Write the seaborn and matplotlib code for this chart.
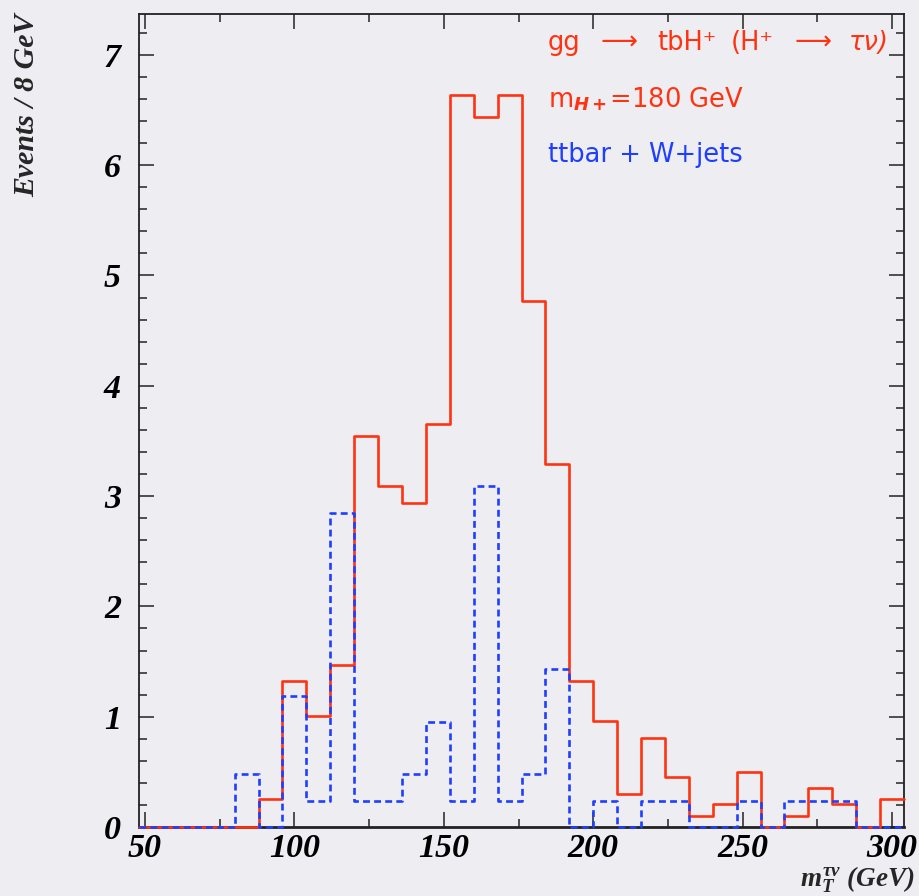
import numpy as np
import matplotlib
matplotlib.use("Agg")
import matplotlib.pyplot as plt
from matplotlib.ticker import MultipleLocator
import pandas as pd
import seaborn as sns

# lower edges of the 8 GeV bins
bin_low = list(range(48, 304, 8))
# gg -> tbH+ (H+ -> tau nu), m_H+ = 180 GeV
signal = [0, 0, 0, 0, 0, 0.25, 1.32, 1.01, 1.47, 3.54, 3.09, 2.94, 3.65, 6.64, 6.44, 6.64,
          4.77, 3.29, 1.32, 0.96, 0.30, 0.81, 0.45, 0.10, 0.21, 0.50, 0, 0.10, 0.35, 0.21, 0, 0.25]
# ttbar + W+jets
background = [0, 0, 0, 0, 0.48, 0, 1.19, 0.24, 2.85, 0.24, 0.24, 0.48, 0.95, 0.24, 3.09, 0.24,
              0.48, 1.43, 0, 0.24, 0, 0.24, 0.24, 0, 0, 0.24, 0, 0.24, 0.24, 0.24, 0, 0]

W, H = 919, 896
bg = "#eeedf2"
red = "#ff3311"
blue = "#1f3fff"


def fx(px):
    return px / W


def fy(py):
    return 1 - py / H


sns.set_style("ticks")
plt.rcParams.update({
    "font.family": ["Liberation Serif", "DejaVu Serif"],
    "font.weight": "bold",
    "font.style": "italic",
    "mathtext.fontset": "custom",
    "mathtext.it": "Liberation Serif:bold:italic",
    "mathtext.rm": "Liberation Serif:bold:italic",
    "mathtext.bf": "DejaVu Sans:bold",
    "axes.facecolor": bg,
    "figure.facecolor": bg,
})

fig = plt.figure(figsize=(9.19, 8.96), dpi=100)
ax = fig.add_axes([fx(139), fy(827), fx(904) - fx(139), (827 - 14) / H])

df = pd.DataFrame({"mt": np.array(bin_low) + 4, "sig": signal, "bkg": background})
edges = bin_low + [bin_low[-1] + 8]

sns.histplot(data=df, x="mt", weights="sig", bins=edges, element="step", fill=False,
             color=red, linewidth=1.9, zorder=3, clip_on=False, ax=ax)
sns.histplot(data=df, x="mt", weights="bkg", bins=edges, element="step", fill=False,
             color=blue, linewidth=1.9, linestyle=(0, (2.6, 1.6)), zorder=4, clip_on=False, ax=ax)

ax.set_xlim(48, 304)
ax.set_ylim(0, 7.37)
ax.set_xlabel("")
ax.set_ylabel("")
ax.xaxis.set_major_locator(MultipleLocator(50))
ax.xaxis.set_minor_locator(MultipleLocator(25))
ax.yaxis.set_major_locator(MultipleLocator(1))
ax.yaxis.set_minor_locator(MultipleLocator(0.2))
ax.tick_params(which="both", direction="in", top=True, right=True, width=1.2,
               color="#333333", labelsize=24.5, labelcolor="black")
ax.tick_params(which="major", length=11)
ax.tick_params(which="minor", length=5.5)
ax.tick_params(axis="x", pad=4)
ax.tick_params(axis="y", pad=13)
for sp in ax.spines.values():
    sp.set_linewidth(1.3)
    sp.set_color("#222222")
ax.spines["bottom"].set_linewidth(2)

fig.text(fx(27), fy(14), "Events / 8 GeV", rotation=90, ha="center", va="top", fontsize=21.5)
fig.text(fx(914), fy(895), r"$m_{T}^{\tau\nu}$ (GeV)", ha="right", va="bottom", fontsize=19.5)

sans = dict(family="DejaVu Sans", weight="normal", style="normal", fontsize=18.5, va="baseline")
line1 = [(548, "gg"), (600, "⟶"), (657, "tbH⁺"), (731, "(H⁺"), (794, "⟶"), (849, "τν)")]
for x0, s in line1:
    kw = dict(sans)
    if s.startswith("τ"):
        kw["style"] = "italic"
    fig.text(fx(x0), fy(50), s, color=red, **kw)
fig.text(fx(548), fy(107), r"m$_{\mathbf{H+}}$=180 GeV", color=red, **sans)
fig.text(fx(548), fy(162), "ttbar + W+jets", color=blue, **sans)

fig.savefig("out.png", dpi=100, facecolor=bg)
